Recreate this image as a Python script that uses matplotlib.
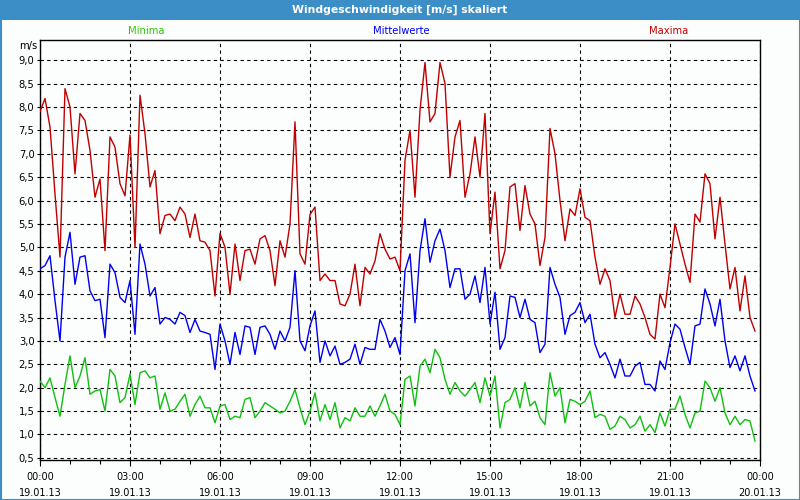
import numpy as np
import matplotlib
matplotlib.use("Agg")
import matplotlib.pyplot as plt
from matplotlib.patches import Rectangle

# ---- data (10-minute values, 19.01.13 00:00 .. 23:50) ----
maxima = [7.9, 8.18, 7.57, 6.14, 4.79, 8.39, 8.0, 6.57, 7.86, 7.71, 7.07, 6.07, 6.46, 4.93, 7.36, 7.14, 6.36, 6.1,
          7.4, 5.0, 8.25, 7.43, 6.29, 6.64, 5.29, 5.68, 5.71, 5.57, 5.86, 5.71, 5.21, 5.71, 5.14, 5.11, 4.93, 3.96,
          5.3, 5.0, 4.0, 5.07, 4.29, 4.93, 4.96, 4.64, 5.18, 5.25, 4.93, 4.18, 5.14, 4.79, 5.5, 7.68, 4.86, 4.64,
          5.7, 5.86, 4.29, 4.43, 4.29, 4.29, 3.79, 3.75, 4.0, 4.64, 3.75, 4.57, 4.43, 4.71, 5.29, 4.96, 4.75, 4.79,
          4.5, 6.86, 7.5, 6.07, 7.93, 8.95, 7.68, 7.86, 8.95, 8.5, 6.5, 7.36, 7.71, 6.07, 6.57, 7.36, 6.5, 7.86,
          5.29, 6.18, 4.54, 4.93, 6.29, 6.36, 5.36, 6.32, 5.71, 5.5, 4.61, 5.21, 7.54, 7.0, 6.0, 5.14, 5.82, 5.68,
          6.25, 5.64, 5.57, 4.79, 4.21, 4.54, 4.29, 3.5, 4.0, 3.57, 3.57, 3.96, 3.79, 3.5, 3.14, 3.04, 4.0, 3.71,
          4.57, 5.5, 5.07, 4.64, 4.25, 5.71, 5.54, 6.57, 6.36, 5.18, 6.07, 5.07, 4.11, 4.57, 3.64, 4.39, 3.5, 3.21]

mittelwerte = [4.54, 4.61, 4.82, 3.86, 3.0, 4.79, 5.32, 4.21, 4.79, 4.82, 4.07, 3.86, 3.89, 3.07, 4.64, 4.46, 3.93, 3.82,
               4.29, 3.14, 5.07, 4.64, 3.96, 4.14, 3.36, 3.5, 3.46, 3.36, 3.61, 3.54, 3.18, 3.46, 3.21, 3.18, 3.14, 2.39,
               3.36, 3.0, 2.5, 3.18, 2.71, 3.32, 3.29, 2.71, 3.29, 3.32, 3.14, 2.82, 3.21, 3.0, 3.29, 4.5, 3.0, 2.79,
               3.32, 3.64, 2.54, 3.0, 2.68, 2.89, 2.5, 2.54, 2.61, 2.93, 2.5, 2.86, 2.82, 2.82, 3.46, 3.21, 2.86, 3.07,
               2.71, 4.5, 4.86, 3.39, 4.93, 5.61, 4.68, 5.14, 5.39, 4.93, 4.14, 4.54, 4.54, 3.89, 4.0, 4.39, 3.82, 4.57,
               3.36, 4.04, 2.82, 3.07, 3.96, 3.93, 3.5, 3.89, 3.46, 3.39, 2.75, 2.93, 4.57, 4.21, 3.93, 3.14, 3.54, 3.61,
               3.82, 3.39, 3.57, 2.93, 2.64, 2.75, 2.5, 2.21, 2.61, 2.25, 2.25, 2.46, 2.54, 2.07, 2.07, 1.93, 2.57, 2.39,
               2.96, 3.36, 3.25, 2.86, 2.5, 3.32, 3.36, 4.11, 3.79, 3.32, 3.89, 3.0, 2.43, 2.68, 2.36, 2.68, 2.25, 1.93]

minima = [2.14, 2.0, 2.21, 1.79, 1.39, 2.07, 2.68, 2.0, 2.25, 2.64, 1.86, 1.93, 1.96, 1.5, 2.39, 2.25, 1.68, 1.79,
          2.29, 1.64, 2.32, 2.36, 2.21, 2.25, 1.54, 1.89, 1.5, 1.54, 1.71, 1.86, 1.39, 1.64, 1.82, 1.57, 1.57, 1.25,
          1.61, 1.64, 1.32, 1.39, 1.36, 1.75, 1.79, 1.36, 1.5, 1.68, 1.61, 1.54, 1.46, 1.5, 1.71, 1.96, 1.57, 1.21,
          1.5, 1.89, 1.29, 1.64, 1.32, 1.68, 1.14, 1.36, 1.29, 1.57, 1.39, 1.39, 1.61, 1.39, 1.61, 1.86, 1.5, 1.43,
          1.21, 2.18, 2.25, 1.61, 2.46, 2.61, 2.32, 2.82, 2.64, 2.18, 1.86, 2.11, 1.93, 1.82, 1.96, 2.11, 1.68, 2.21,
          1.82, 2.25, 1.14, 1.68, 1.75, 2.0, 1.57, 2.11, 1.61, 1.71, 1.36, 1.21, 2.32, 1.82, 2.0, 1.25, 1.75, 1.71,
          1.64, 1.71, 1.93, 1.36, 1.43, 1.39, 1.11, 1.18, 1.39, 1.32, 1.14, 1.21, 1.39, 1.07, 1.21, 1.04, 1.46, 1.18,
          1.54, 1.54, 1.82, 1.43, 1.14, 1.46, 1.5, 2.14, 2.0, 1.71, 2.0, 1.46, 1.21, 1.39, 1.21, 1.32, 1.29, 0.86]

x_tick_hours = [0, 3, 6, 9, 12, 15, 18, 21, 24]
x_tick_labels = ["00:00\n19.01.13", "03:00\n19.01.13", "06:00\n19.01.13", "09:00\n19.01.13",
                 "12:00\n19.01.13", "15:00\n19.01.13", "18:00\n19.01.13", "21:00\n19.01.13",
                 "00:00\n20.01.13"]
y_ticks = [0.5, 1.0, 1.5, 2.0, 2.5, 3.0, 3.5, 4.0, 4.5, 5.0, 5.5, 6.0, 6.5, 7.0, 7.5, 8.0, 8.5, 9.0]
y_tick_labels = ["0,5", "1,0", "1,5", "2,0", "2,5", "3,0", "3,5", "4,0", "4,5", "5,0", "5,5", "6,0",
                 "6,5", "7,0", "7,5", "8,0", "8,5", "9,0"]
series_names = ["Minima", "Mittelwerte", "Maxima"]

hours = np.arange(len(maxima)) * (10 / 60)

RED = "#c00000"
BLUE = "#0000f0"
GREEN = "#10c010"

plt.rcParams["font.family"] = ["DejaVu Sans"]

fig = plt.figure(figsize=(8, 5), dpi=100, facecolor="#fcfdfd")

# window title bar and frame
fig.patches.append(Rectangle((0, 480 / 500), 1, 20 / 500, transform=fig.transFigure,
                             facecolor="#3c8fc6", edgecolor="none", zorder=0))
fig.patches.append(Rectangle((0.5 / 800, 0.5 / 500), 799 / 800, 499 / 500, transform=fig.transFigure,
                             facecolor="none", edgecolor="#3c8fc6", linewidth=1.5, zorder=5))
fig.text(0.5, 490 / 500, "Windgeschwindigkeit [m/s] skaliert", color="white", fontweight="bold",
         fontsize=7.8, ha="center", va="center")

ax = fig.add_axes([40 / 800, 40 / 500, 720 / 800, 420 / 500])
ax.set_facecolor("#fcfdfd")

ax.plot(hours, maxima, color=RED, lw=1.0, zorder=3)
ax.plot(hours, mittelwerte, color=BLUE, lw=1.0, zorder=3)
ax.plot(hours, minima, color=GREEN, lw=1.0, zorder=3)

ax.set_xlim(0, 24)
ax.set_ylim(0.455, 9.43)

ax.set_xticks(x_tick_hours)
ax.set_xticklabels(x_tick_labels, fontsize=7, linespacing=1.75)
ax.set_xticks(np.arange(0, 25, 1), minor=True)
ax.set_yticks(y_ticks)
ax.set_yticklabels(y_tick_labels, fontsize=7.2)

ax.tick_params(axis="x", which="major", length=4, width=0.8, pad=5, color="black")
ax.tick_params(axis="x", which="minor", length=3, width=0.8, color="black")
ax.tick_params(axis="y", which="major", length=2, width=0.8, pad=2, color="black")

ax.grid(True, which="major", color="black", linestyle=(0, (3, 3)), linewidth=0.8, zorder=1)
ax.set_axisbelow(True)
for sp in ax.spines.values():
    sp.set_color("black")
    sp.set_linewidth(1.0)

ax.text(-0.004, 9.3, "m/s", transform=ax.get_yaxis_transform(), ha="right", va="center", fontsize=7.2)

fig.text(146 / 800, 469 / 500, series_names[0], color="#30c800", fontsize=7.2, ha="center", va="center")
fig.text(401 / 800, 469 / 500, series_names[1], color="#0000f0", fontsize=7.2, ha="center", va="center")
fig.text(669 / 800, 469 / 500, series_names[2], color=RED, fontsize=7.2, ha="center", va="center")

fig.savefig("out.png", dpi=100, facecolor=fig.get_facecolor())
